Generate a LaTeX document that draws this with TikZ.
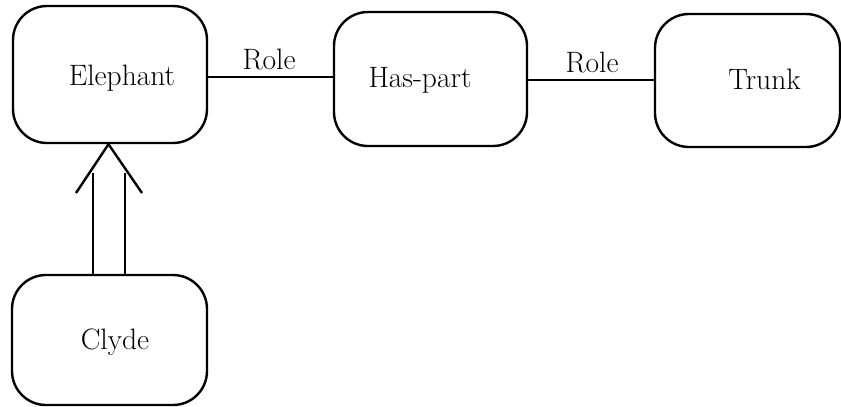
\documentclass[tikz,border=0pt]{standalone}
\begin{document}
\begin{tikzpicture}[x=1pt,y=-1pt,line width=2.4pt,
  box/.style={draw, rounded corners=34pt, inner sep=0pt},
  lbl/.style={font=\fontsize{29.5}{34}\selectfont, inner sep=0pt, anchor=base}]
\useasboundingbox (0,0) rectangle (841,407);
\node[box, minimum width=194pt, minimum height=137pt] (e) at (110,74.5) {};
\node[lbl] (et) at (122,85) {Elephant};
\node[box, minimum width=193pt, minimum height=134pt] (h) at (430.5,79) {};
\node[lbl] (ht) at (420,87) {Has-part};
\node[box, minimum width=185pt, minimum height=133pt] (t) at (747.5,80.5) {};
\node[lbl] (tt) at (764.5,89) {Trunk};
\node[box, minimum width=195pt, minimum height=130pt] (c) at (109.5,340) {};
\node[lbl] (ct) at (115,349) {Clyde};
\draw (e.east |- 0,77) -- (h.west |- 0,77);
\node[lbl] (r1) at (269,69) {Role};
\draw (h.east |- 0,80) -- (t.west |- 0,80);
\node[lbl] (r2) at (592,72) {Role};
\draw (c.north -| 93,0) -- (93,173);
\draw (c.north -| 125,0) -- (125,173);
\draw[line join=miter] (76,193) -- (e.south -| 108.5,0) -- (142,193);
\end{tikzpicture}
\end{document}
